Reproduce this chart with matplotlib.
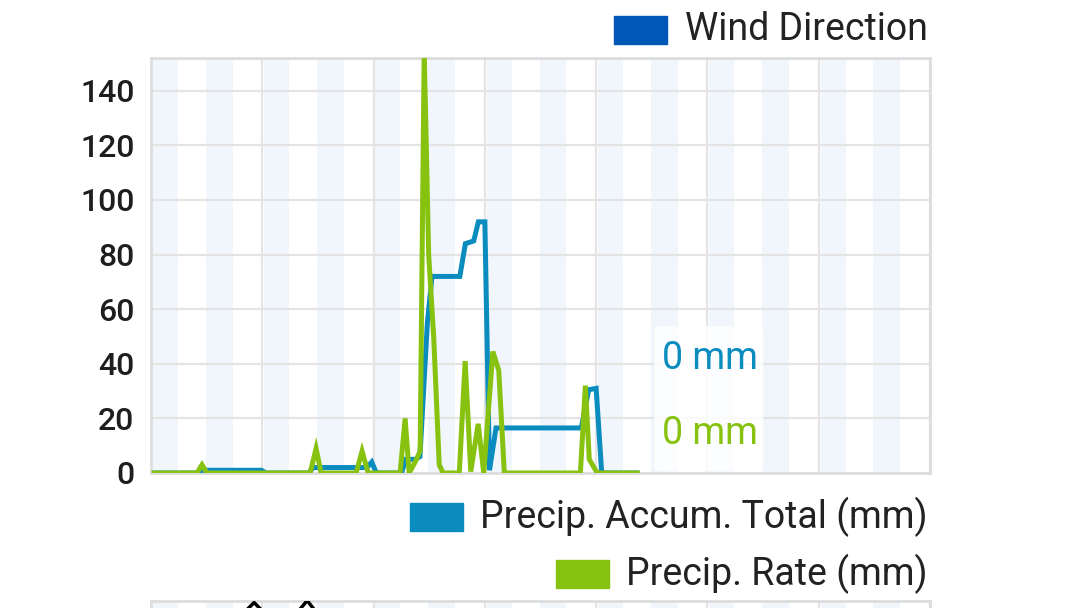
import numpy as np
import matplotlib.pyplot as plt
from matplotlib.patches import Rectangle, FancyBboxPatch

plt.rcParams['font.family'] = ['Roboto', 'DejaVu Sans']

# time in hours from start of window, values in mm
accum_hours = [0.2, 2.5, 2.75, 5.95, 6.2, 8.5, 8.75, 11.65, 11.9, 12.15, 13.5, 13.75,
               14.25, 14.5, 14.9, 15.15, 16.65, 16.95, 17.4, 17.65, 18.0, 18.25,
               18.6, 23.2, 23.6, 24.0, 24.3, 26.2]
accum_mm = [0, 0, 1, 1, 0, 0, 2, 2, 4, 0, 0, 5,
            5, 6, 55, 72, 72, 84, 85, 92, 92, 1,
            16.5, 16.5, 30.5, 31, 0, 0]

rate_hours = [0.16, 2.48, 2.75, 3.02, 8.58, 8.90, 9.17, 11.06, 11.38, 11.71, 13.43,
              13.70, 13.92, 14.24, 14.51, 14.73, 14.97, 15.24, 15.54, 15.75, 16.62,
              16.94, 17.24, 17.64, 17.94, 18.43, 18.75, 19.05, 23.15, 23.42, 23.63,
              24.06, 26.22]
rate_mm = [0, 0, 3, 0, 0, 9, 0, 0, 8, 0, 0,
           20, 0, 4, 8, 155, 80, 50, 3, 0, 0,
           41, 0.5, 18, 0, 44.5, 37.5, 0, 0, 32, 5,
           0, 0]

yticks = [0, 20, 40, 60, 80, 100, 120, 140]
current_labels = ['0 mm', '0 mm']

c_accum = '#0b8cbf'
c_rate = '#88c210'
c_wind = '#0057b8'
grid_c = '#e4e4e4'
stripe_c = '#f1f6fc'

W, H = 1080, 608
fig = plt.figure(figsize=(W / 100, H / 100), dpi=100)


def fx(px):
    return px / W


def fy(py):
    return 1 - py / H


ax = fig.add_axes([fx(151), fy(473), fx(930) - fx(151), fy(58) - fy(473)])
ax.set_xlim(0, 42)
ax.set_ylim(0, 152)

# light bands, two per grid interval
for k in range(7):
    for a, b in [(0.1, 1.45), (2.95, 4.4)]:
        ax.axvspan(6 * k + a, 6 * k + b, color=stripe_c, lw=0, zorder=0)

for x in range(0, 43, 6):
    ax.axvline(x, color=grid_c, lw=1.6, zorder=1)
for y in yticks[1:]:
    ax.axhline(y, color=grid_c, lw=1.6, zorder=1)

ax.plot(accum_hours, accum_mm, color=c_accum, lw=3.6, zorder=3,
        solid_joinstyle='miter')
ax.plot(rate_hours, rate_mm, color=c_rate, lw=3.6, zorder=4,
        solid_joinstyle='miter')

ax.set_xticks([])
ax.set_yticks(yticks)
ax.set_yticklabels([str(v) for v in yticks], fontsize=23, fontweight='medium',
                   color='#1e1e1e')
ax.tick_params(axis='y', length=0, pad=12)
for s in ax.spines.values():
    s.set_color('#dddddd')
    s.set_linewidth(2)

# current value box
box = FancyBboxPatch((0.646, 0.004), 0.14, 0.35, transform=ax.transAxes,
                     boxstyle='round,pad=0,rounding_size=0.01',
                     fc='white', ec='none', alpha=0.85, zorder=5)
ax.add_patch(box)
ax.text(0.717, 0.275, current_labels[0], transform=ax.transAxes, ha='center',
        va='center', fontsize=27, color=c_accum, zorder=6)
ax.text(0.717, 0.096, current_labels[1], transform=ax.transAxes, ha='center',
        va='center', fontsize=27, color=c_rate, zorder=6)

# legends: text right-aligned, colour swatch left of it
fig.canvas.draw()
renderer = fig.canvas.get_renderer()
legend_items = [('Wind Direction', c_wind, 30),
                ('Precip. Accum. Total (mm)', c_accum, 517),
                ('Precip. Rate (mm)', c_rate, 574)]
for label, col, yc in legend_items:
    t = fig.text(fx(928), fy(yc), label, ha='right', va='center',
                 fontsize=27, color='#222222')
    bb = t.get_window_extent(renderer)
    x0 = bb.x0 - 18 - 53
    fig.patches.append(Rectangle((fx(x0), fy(yc + 14)), fx(53), 28 / H,
                                 transform=fig.transFigure, color=col))

# top of the next chart, cut off by the screen
ax2 = fig.add_axes([fx(151), fy(640), fx(930) - fx(151), (640 - 601) / H])
ax2.set_xlim(0, 42)
ax2.set_ylim(0, 100)
for k in range(7):
    for a, b in [(0.1, 1.45), (2.95, 4.4)]:
        ax2.axvspan(6 * k + a, 6 * k + b, color=stripe_c, lw=0, zorder=0)
for x in range(0, 43, 6):
    ax2.axvline(x, color=grid_c, lw=1.6, zorder=1)
ax2.plot([4.8, 5.56, 6.3, 7.7, 8.42, 9.1], [60, 96, 60, 60, 101, 60],
         color='black', lw=2.5, zorder=3)
ax2.set_xticks([])
ax2.set_yticks([])
for s in ax2.spines.values():
    s.set_color('#dddddd')
    s.set_linewidth(2)

fig.savefig('out.png', dpi=100, facecolor='white')
